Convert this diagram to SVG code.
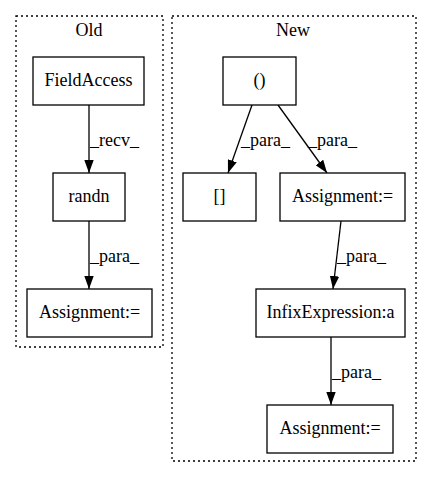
<svg xmlns="http://www.w3.org/2000/svg" width="432" height="480" viewBox="0 0 432 480">
<style>
text{font-family:"Liberation Serif","Times New Roman",serif;font-size:18px;fill:#000}
.n{fill:#fff;stroke:#000;stroke-width:1.3}
.c{fill:none;stroke:#000;stroke-width:1.3;stroke-dasharray:2,3}
.e{fill:none;stroke:#000;stroke-width:1.3;marker-end:url(#a)}
.m{text-anchor:middle}
</style>
<defs>
<marker id="a" viewBox="0 0 13 9.4" refX="13" refY="4.7" markerWidth="13" markerHeight="9.4" markerUnits="userSpaceOnUse" orient="auto">
<path d="M0,0 L13,4.7 L0,9.4 z" fill="#000"/>
</marker>
</defs>
<rect width="432" height="480" fill="#fff"/>
<g id="cluster_old">
<rect class="c" x="16" y="16" width="147" height="331"/>
<text class="m" x="89" y="36">Old</text>
</g>
<g id="cluster_new">
<rect class="c" x="172" y="16" width="244" height="445"/>
<text class="m" x="293" y="36">New</text>
</g>
<g id="connectors">
<path class="e" d="M89,105 L89,173"/>
<text x="90" y="146">_recv_</text>
<path class="e" d="M89,221 L89,289"/>
<text x="90" y="262">_para_</text>
<path class="e" d="M252,105 L228,173"/>
<text x="241" y="146">_para_</text>
<path class="e" d="M278,105 L327,173"/>
<text x="308" y="146">_para_</text>
<path class="e" d="M341,221 L333,289"/>
<text x="337" y="262">_para_</text>
<path class="e" d="M331,337 L331,405"/>
<text x="332" y="378">_para_</text>
</g>
<g id="fieldaccess"><rect class="n" x="33" y="57" width="111" height="48"/><text class="m" x="88.5" y="86">FieldAccess</text></g>
<g id="randn"><rect class="n" x="53" y="173" width="72" height="48"/><text class="m" x="89" y="202">randn</text></g>
<g id="assign_old"><rect class="n" x="27" y="289" width="125" height="48"/><text class="m" x="89.5" y="318">Assignment:=</text></g>
<g id="paren"><rect class="n" x="223" y="57" width="73" height="48"/><text class="m" x="259.5" y="86">()</text></g>
<g id="brackets"><rect class="n" x="183" y="173" width="73" height="48"/><text class="m" x="219.5" y="202">[]</text></g>
<g id="assign_new1"><rect class="n" x="280" y="173" width="125" height="48"/><text class="m" x="342.5" y="202">Assignment:=</text></g>
<g id="infix"><rect class="n" x="256" y="289" width="149" height="48"/><text class="m" x="330.5" y="318">InfixExpression:a</text></g>
<g id="assign_new2"><rect class="n" x="267" y="405" width="126" height="48"/><text class="m" x="330" y="434">Assignment:=</text></g>
</svg>
